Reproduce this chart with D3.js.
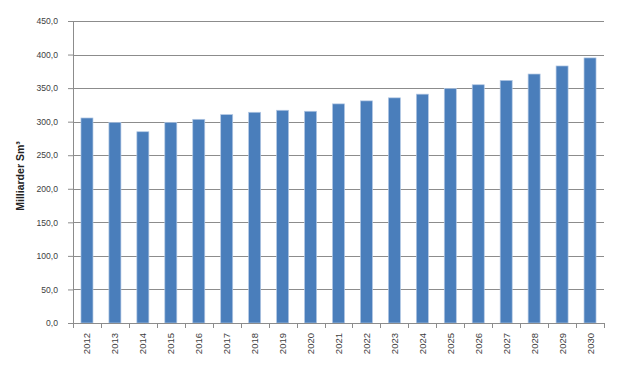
<!DOCTYPE html>
<html>
<head>
<meta charset="utf-8">
<script src="https://cdn.jsdelivr.net/npm/d3@7"></script>
<style>
  body { margin: 0; background: #fff; }
  .axis text { font-family: "Liberation Sans", Arial, sans-serif; fill: #404040; }
</style>
</head>
<body>
<div id="chart"></div>
<script>
// Milliarder Sm³ per år
const years = ['2012','2013','2014','2015','2016','2017','2018','2019','2020','2021',
               '2022','2023','2024','2025','2026','2027','2028','2029','2030'];
const values = [305.5, 299, 285, 299, 303.5, 310.5, 314, 317, 315.5, 326.5,
                331, 335.5, 341, 349.5, 355, 361.5, 371, 383, 395];
const yTicks = [0, 50, 100, 150, 200, 250, 300, 350, 400, 450];

const cw = 623, ch = 368;
const margin = { top: 21, right: 19, bottom: 45, left: 73 };
const w = cw - margin.left - margin.right;
const h = ch - margin.top - margin.bottom;

const svg = d3.select('#chart').append('svg')
  .attr('width', cw).attr('height', ch)
  .append('g')
  .attr('transform', `translate(${margin.left},${margin.top})`);

const x = d3.scaleBand().domain(years).range([0, w]).paddingInner(0.57).paddingOuter(0.285);
const y = d3.scaleLinear().domain([0, 450]).range([h, 0]);
const fmt = d => d3.format('.1f')(d).replace('.', ',');

// Grid
svg.append('g')
  .selectAll('line')
  .data(yTicks.slice(1))
  .join('line')
  .attr('x1', 0).attr('x2', w)
  .attr('y1', d => Math.round(y(d)) + 0.5).attr('y2', d => Math.round(y(d)) + 0.5)
  .attr('stroke', '#8c8c8c').attr('stroke-width', 1);

// Bars
svg.append('g')
  .selectAll('rect')
  .data(values)
  .join('rect')
  .attr('x', (d, i) => x(years[i]))
  .attr('y', d => y(d))
  .attr('width', x.bandwidth())
  .attr('height', d => h - y(d))
  .attr('fill', '#4a7ebb')
  .attr('stroke', '#b3c8e4')
  .attr('stroke-width', 0.7);

// Y axis
const yAxis = svg.append('g').attr('class', 'axis')
  .call(d3.axisLeft(y).tickValues(yTicks).tickFormat(fmt).tickSize(5).tickPadding(10));
yAxis.select('.domain').attr('stroke', '#8c8c8c');
yAxis.selectAll('.tick line').attr('stroke', '#8c8c8c');
yAxis.selectAll('text').attr('font-size', '8.6px');

// X axis (ticks between categories)
const xg = svg.append('g').attr('class', 'axis')
  .attr('transform', `translate(0,${h})`);
xg.append('line').attr('x1', 0).attr('x2', w).attr('y1', 0.5).attr('y2', 0.5).attr('stroke', '#8c8c8c');
const step = x.step();
xg.selectAll('.sep')
  .data(d3.range(years.length + 1))
  .join('line')
  .attr('x1', i => Math.round(i * step) + 0.5).attr('x2', i => Math.round(i * step) + 0.5)
  .attr('y1', 0).attr('y2', 5)
  .attr('stroke', '#8c8c8c');
xg.selectAll('text')
  .data(years)
  .join('text')
  .attr('transform', d => `translate(${x(d) + x.bandwidth() / 2 + 3.5},10) rotate(-90)`)
  .attr('text-anchor', 'end')
  .attr('font-size', '9.5px')
  .text(d => d);

// Y title
svg.append('text')
  .attr('transform', `translate(${-49},${h / 2 + 4}) rotate(-90)`)
  .attr('text-anchor', 'middle')
  .attr('font-family', '"Liberation Sans", Arial, sans-serif')
  .attr('font-weight', 'bold')
  .attr('font-size', '10.5px')
  .attr('fill', '#222')
  .text('Milliarder Sm³');
</script>
</body>
</html>
